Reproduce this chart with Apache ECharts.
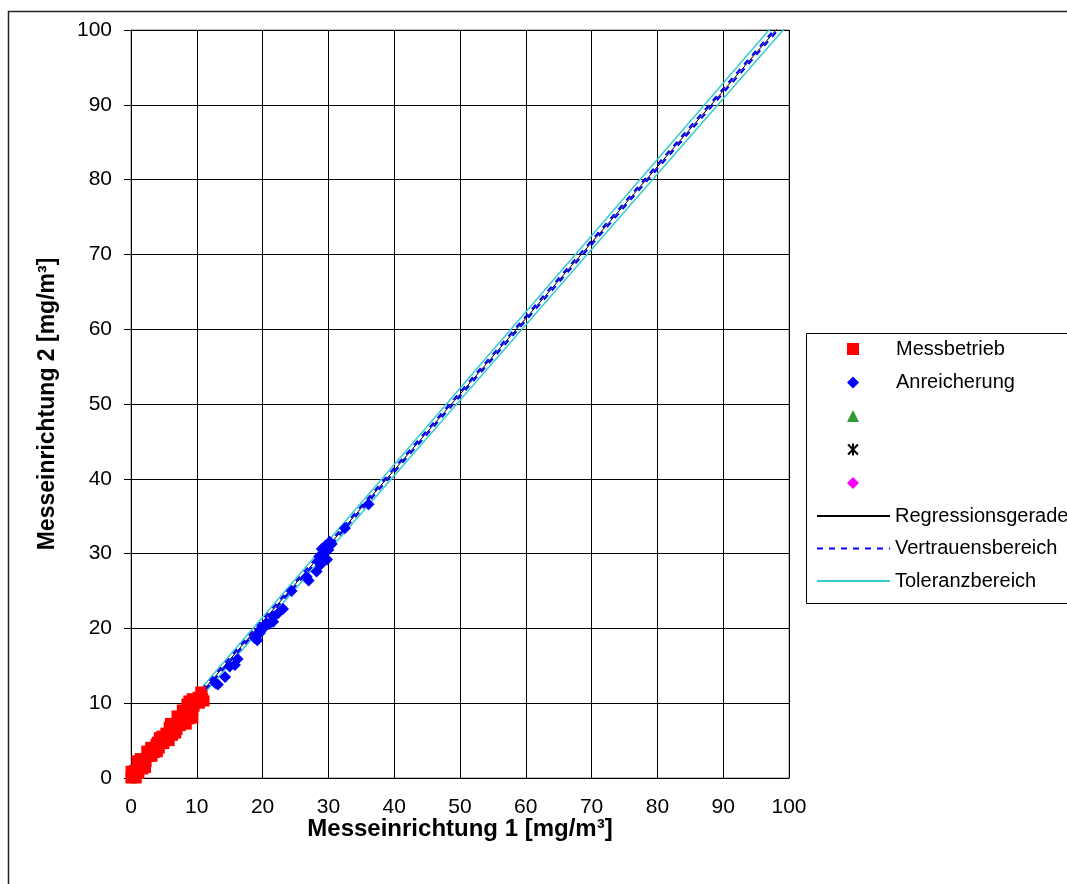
<!DOCTYPE html>
<html>
<head>
<meta charset="utf-8">
<script src="https://cdn.jsdelivr.net/npm/echarts@6/dist/echarts.min.js"></script>
<style>
	html, body { margin: 0; padding: 0; background: #fff; }
	#chart { width: 1067px; height: 884px; }
</style>
</head>
<body>
<div id="chart"></div>
<script>
//Messbetrieb (rote Quadrate)
var messbetrieb = [
	[0, 0], [0.1, 0.4], [0.5, 0.2], [0.8, 0], [0, 0.9], [0.3, 0.3], [0.5, 1.0], [1.2, 0.6],
	[0.9, 2.3], [1.2, 1.5], [1.8, 1.2], [1.5, 2.2], [2.0, 2.5], [2.0, 1.8], [2.4, 3.6],
	[2.7, 2.9], [2.5, 3.2], [3.0, 3.5], [3.2, 2.9], [3.5, 4.0], [3.8, 4.5], [4.3, 4.0],
	[4.0, 4.8], [3.5, 3.4], [4.7, 5.6], [4.8, 5.3], [5.6, 5.2], [5.3, 6.0], [5.0, 4.6],
	[5.8, 6.8], [6.0, 6.3], [6.8, 6.0], [6.3, 7.0], [6.3, 5.7], [7.0, 7.4], [7.0, 8.3],
	[7.5, 8.0], [7.5, 7.0], [8.4, 7.2], [8.0, 8.8], [8.5, 9.9], [8.7, 9.3], [8.0, 7.8],
	[9.4, 8.0], [9.0, 9.7], [9.3, 10.6], [9.8, 10.3], [9.4, 9.0], [10.2, 10.8],
	[10.6, 11.5], [11.1, 10.3], [10.8, 11.0], [10.4, 10.0], [0.6, 0.6], [1.0, 0.9],
	[1.6, 1.6], [2.3, 2.2], [2.9, 3.2], [3.3, 3.8], [3.9, 4.2], [4.4, 4.7], [5.1, 5.3],
	[5.6, 5.8], [6.2, 6.5], [6.6, 6.6], [7.2, 7.7], [7.9, 8.2], [8.3, 8.5], [8.9, 9.0],
	[9.6, 9.6], [10.0, 10.4], [10.9, 10.6], [1.4, 2.6], [3.0, 4.1], [4.3, 5.4], [6.0, 7.3],
	[7.8, 9.1], [8.8, 10.3], [2.2, 1.4], [4.0, 3.5], [5.8, 5.0], [7.0, 6.5], [8.8, 7.9]
];
//Anreicherung (blaue Rauten)
var anreicherung = [
	[12.8, 12.7], [13.2, 12.5], [14.3, 13.5], [15.0, 14.9], [15.8, 15.1], [16.2, 15.9],
	[18.8, 18.7], [19.2, 18.4], [19.6, 19.4], [19.6, 19.8], [20.2, 20.1], [20.6, 20.7],
	[21.0, 20.6], [21.6, 20.9], [21.6, 21.6], [22.3, 22.0], [23.1, 22.6], [24.4, 25.0],
	[26.7, 26.9], [27.0, 26.4], [28.2, 27.6], [28.5, 28.9], [28.8, 28.5], [29.0, 29.5],
	[28.6, 29.6], [29.2, 30.0], [29.5, 30.3], [29.0, 30.6], [30.0, 30.5], [30.0, 31.1],
	[30.2, 31.6], [30.5, 31.3], [29.8, 29.2], [29.5, 31.0], [32.5, 33.4], [36.1, 36.6]
];
//Geraden: x-Stuetzstellen und y-Werte
var linieX = [0, 100];
var regressionY = [0.6, 102.0];
var vertrauenObenY = [0.85, 102.3];
var vertrauenUntenY = [0.35, 101.7];
var toleranzObenY = [1.1, 103.1];
var toleranzUntenY = [0.1, 100.9];
//Achsen
var achseMin = 0;
var achseMax = 100;
var achseIntervall = 10;

var schrift = "Liberation Sans, Arial, sans-serif";

function gerade(ys) {
	var res = [];
	for (var i = 0; i < linieX.length; i++) {
		res.push([linieX[i], ys[i]]);
	}
	return res;
}

var sternPfad = "path://M4.2,0 L5.8,0 L5.8,10 L4.2,10 Z M0.3,1.5 L1.5,0.3 L9.7,8.5 L8.5,9.7 Z M8.5,0.3 L9.7,1.5 L1.5,9.7 L0.3,8.5 Z";

var legendeText = { fontFamily: schrift, fontSize: 20, color: "#000", lineHeight: 18 };

var chart = echarts.init(document.getElementById("chart"));
var option = {
	animation: false,
	backgroundColor: "#fff",
	textStyle: { fontFamily: schrift },
	graphic: [
		{
			type: "rect",
			shape: { x: 8.5, y: 11.5, width: 1200, height: 1000 },
			style: { fill: "none", stroke: "#222", lineWidth: 1.5 },
			silent: true,
			z: -10
		},
		{
			type: "rect",
			shape: { x: 806.5, y: 333.5, width: 400, height: 270 },
			style: { fill: "#fff", stroke: "#000", lineWidth: 1 },
			silent: true,
			z: -5
		}
	],
	grid: {
		left: 131,
		top: 30,
		right: 278,
		bottom: 106,
		show: true,
		borderColor: "#808080",
		borderWidth: 1,
		backgroundColor: "#fff"
	},
	legend: [
		{
			orient: "vertical",
			left: 847,
			top: 339,
			itemWidth: 12,
			itemHeight: 12,
			itemGap: 13.5,
			padding: 0,
			selectedMode: false,
			textStyle: Object.assign({ padding: [0, 0, 0, 32] }, legendeText),
			data: ["Messbetrieb", "Anreicherung", " ", "  ", "   "]
		},
		{
			orient: "vertical",
			left: 816,
			top: 506,
			itemWidth: 73,
			itemHeight: 10,
			itemGap: 12.5,
			padding: 0,
			selectedMode: false,
			itemStyle: { opacity: 0 },
			textStyle: legendeText,
			data: ["Regressionsgerade", "Vertrauensbereich", "Toleranzbereich"]
		}
	],
	xAxis: {
		type: "value",
		min: achseMin,
		max: achseMax,
		interval: achseIntervall,
		name: "Messeinrichtung 1 [mg/m³]",
		nameLocation: "middle",
		nameGap: 39,
		nameMoveOverlap: false,
		nameTextStyle: { fontFamily: schrift, fontSize: 24, fontWeight: "bold", color: "#000" },
		axisLine: { lineStyle: { color: "#000", width: 1 } },
		axisTick: { show: false },
		axisLabel: { fontFamily: schrift, fontSize: 21, color: "#000", margin: 19 },
		splitLine: { show: true, lineStyle: { color: "#000", width: 1 } }
	},
	yAxis: {
		type: "value",
		min: achseMin,
		max: achseMax,
		interval: achseIntervall,
		name: "Messeinrichtung 2 [mg/m³]",
		nameLocation: "middle",
		nameGap: 72,
		nameMoveOverlap: false,
		nameTextStyle: { fontFamily: schrift, fontSize: 23, fontWeight: "bold", color: "#000" },
		axisLine: { show: true, lineStyle: { color: "#000", width: 1 } },
		axisTick: { show: true, length: 7, lineStyle: { color: "#000" } },
		axisLabel: { fontFamily: schrift, fontSize: 21, color: "#000", margin: 19 },
		splitLine: { show: true, lineStyle: { color: "#000", width: 1 } }
	},
	series: [
		{
			name: "Messbetrieb",
			type: "scatter",
			symbol: "rect",
			symbolSize: 11,
			itemStyle: { color: "#ff0000", opacity: 1 },
			data: messbetrieb,
			z: 5
		},
		{
			name: "Anreicherung",
			type: "scatter",
			symbol: "diamond",
			symbolSize: 12,
			itemStyle: { color: "#0000ff", opacity: 1 },
			data: anreicherung,
			z: 5
		},
		{
			name: " ",
			type: "scatter",
			symbol: "triangle",
			symbolSize: 10,
			itemStyle: { color: "#339933", opacity: 1 },
			data: []
		},
		{
			name: "  ",
			type: "scatter",
			symbol: sternPfad,
			symbolSize: 11,
			itemStyle: { color: "#000", opacity: 1 },
			data: []
		},
		{
			name: "   ",
			type: "scatter",
			symbol: "diamond",
			symbolSize: 11,
			itemStyle: { color: "#ff00ff", opacity: 1 },
			data: []
		},
		{
			name: "Regressionsgerade",
			type: "line",
			symbol: "none",
			lineStyle: { color: "#000", width: 1 },
			itemStyle: { color: "#000" },
			data: gerade(regressionY),
			z: 3
		},
		{
			name: "Vertrauensbereich",
			type: "line",
			symbol: "none",
			lineStyle: { color: "#0000ff", width: 2, type: [6, 6] },
			itemStyle: { color: "#0000ff" },
			data: gerade(vertrauenObenY),
			z: 4
		},
		{
			name: "Vertrauensbereich",
			type: "line",
			symbol: "none",
			lineStyle: { color: "#0000ff", width: 2, type: [6, 6], dashOffset: 6 },
			itemStyle: { color: "#0000ff" },
			data: gerade(vertrauenUntenY),
			z: 4
		},
		{
			name: "Toleranzbereich",
			type: "line",
			symbol: "none",
			lineStyle: { color: "#33cccc", width: 1.5 },
			itemStyle: { color: "#33cccc" },
			data: gerade(toleranzObenY),
			z: 3
		},
		{
			name: "Toleranzbereich",
			type: "line",
			symbol: "none",
			lineStyle: { color: "#33cccc", width: 1.5 },
			itemStyle: { color: "#33cccc" },
			data: gerade(toleranzUntenY),
			z: 3
		}
	]
};
chart.setOption(option);
</script>
</body>
</html>
